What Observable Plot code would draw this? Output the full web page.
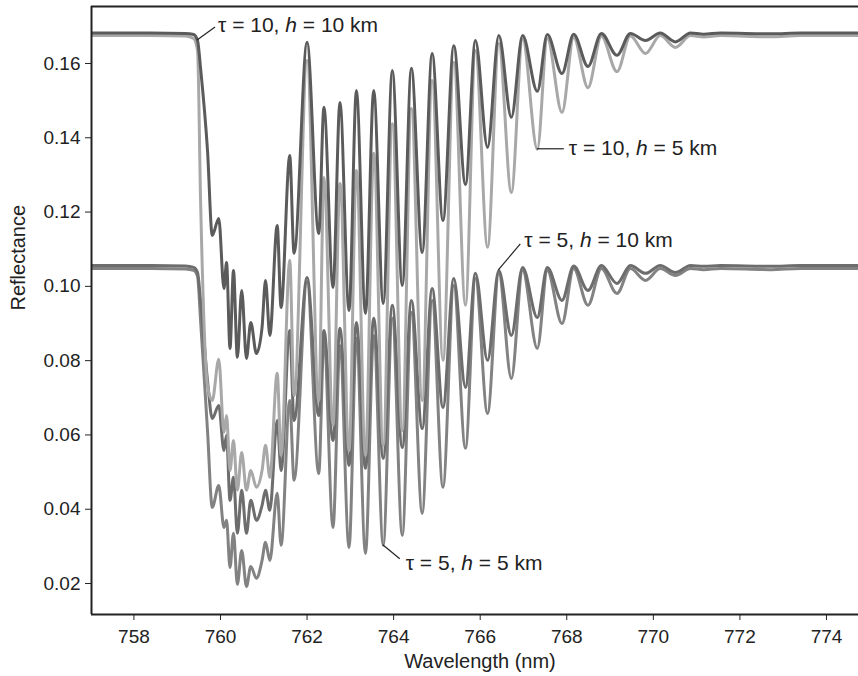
<!DOCTYPE html>
<html>
<head>
<meta charset="utf-8">
<script src="https://cdn.jsdelivr.net/npm/d3@7"></script>
<script src="https://cdn.jsdelivr.net/npm/@observablehq/plot@0.6"></script>
<style>
  html, body { margin: 0; padding: 0; background: #fff; }
  #chart { width: 858px; height: 676px; }
</style>
</head>
<body>
<div id="chart"></div>
<script>
// Wavelength grid (nm) shared by the four simulated spectra of the O2 A-band
const wavelength = [757.02, 758.39, 759.19, 759.38, 759.47, 759.54, 759.70, 759.81, 759.96, 760.08,
  760.14, 760.22, 760.30, 760.39, 760.49, 760.60, 760.70, 760.83, 760.96, 761.04,
  761.14, 761.31, 761.40, 761.60, 761.70, 762.00, 762.27, 762.39, 762.60, 762.76,
  762.97, 763.14, 763.35, 763.54, 763.76, 763.97, 764.20, 764.41, 764.66, 764.89,
  765.14, 765.39, 765.66, 765.89, 766.17, 766.43, 766.72, 766.98, 767.32, 767.55,
  767.89, 768.16, 768.49, 768.80, 769.16, 769.47, 769.82, 770.16, 770.51, 770.86,
  771.16, 771.55, 772.71, 773.40, 774.74];

// Reflectance for cloud optical thickness tau and cloud-top height h
const reflTau10H10 = [0.1682, 0.1682, 0.1681, 0.1678, 0.1662, 0.1587, 0.1366, 0.1137, 0.1183, 0.0994,
  0.1064, 0.0833, 0.1043, 0.0809, 0.0989, 0.0806, 0.0903, 0.0819, 0.0889, 0.1016,
  0.0868, 0.1164, 0.0943, 0.1352, 0.1089, 0.1657, 0.1142, 0.1482, 0.0997, 0.1495,
  0.0935, 0.1527, 0.0927, 0.1527, 0.0954, 0.1581, 0.1002, 0.1587, 0.1091, 0.1627,
  0.1177, 0.1648, 0.1274, 0.1662, 0.1374, 0.1675, 0.1455, 0.1675, 0.1525, 0.1678,
  0.1573, 0.1679, 0.1592, 0.1681, 0.1622, 0.1681, 0.1662, 0.1682, 0.1658, 0.1682,
  0.1679, 0.1682, 0.1680, 0.1682, 0.1682];

const reflTau10H5 = [0.1675, 0.1675, 0.1674, 0.1667, 0.1635, 0.1231, 0.0733, 0.0693, 0.0804, 0.0607,
  0.0652, 0.0504, 0.0585, 0.0451, 0.0553, 0.0451, 0.0504, 0.0459, 0.0504, 0.0572,
  0.0486, 0.0766, 0.0545, 0.1070, 0.0706, 0.1608, 0.0693, 0.1293, 0.0626, 0.1277,
  0.0558, 0.1312, 0.0545, 0.1358, 0.0572, 0.1438, 0.0612, 0.1479, 0.0693, 0.1554,
  0.0801, 0.1603, 0.0949, 0.1635, 0.1105, 0.1654, 0.1253, 0.1666, 0.1369, 0.1667,
  0.1468, 0.1670, 0.1535, 0.1673, 0.1578, 0.1674, 0.1627, 0.1675, 0.1643, 0.1675,
  0.1671, 0.1675, 0.1672, 0.1675, 0.1675];

const reflTau5H10 = [0.1056, 0.1056, 0.1055, 0.1051, 0.1037, 0.0962, 0.0747, 0.0644, 0.0679, 0.0558,
  0.0599, 0.0424, 0.0486, 0.0335, 0.0451, 0.0335, 0.0424, 0.0370, 0.0410, 0.0451,
  0.0397, 0.0639, 0.0504, 0.0881, 0.0639, 0.1024, 0.0652, 0.0881, 0.0585, 0.0887,
  0.0518, 0.0903, 0.0510, 0.0914, 0.0537, 0.0949, 0.0566, 0.0962, 0.0617, 0.0994,
  0.0674, 0.1021, 0.0728, 0.1035, 0.0801, 0.1043, 0.0868, 0.1051, 0.0916, 0.1051,
  0.0962, 0.1055, 0.0989, 0.1056, 0.1008, 0.1056, 0.1035, 0.1056, 0.1037, 0.1056,
  0.1054, 0.1056, 0.1054, 0.1056, 0.1056];

const reflTau5H5 = [0.1048, 0.1048, 0.1047, 0.1043, 0.1027, 0.0908, 0.0612, 0.0405, 0.0464, 0.0351,
  0.0370, 0.0243, 0.0335, 0.0198, 0.0289, 0.0192, 0.0246, 0.0214, 0.0262, 0.0311,
  0.0262, 0.0443, 0.0303, 0.0693, 0.0478, 0.1013, 0.0496, 0.0854, 0.0351, 0.0841,
  0.0297, 0.0860, 0.0281, 0.0868, 0.0303, 0.0914, 0.0329, 0.0930, 0.0389, 0.0962,
  0.0459, 0.1002, 0.0564, 0.1021, 0.0658, 0.1035, 0.0752, 0.1043, 0.0833, 0.1043,
  0.0900, 0.1048, 0.0949, 0.1048, 0.0981, 0.1048, 0.1016, 0.1048, 0.1029, 0.1048,
  0.1045, 0.1048, 0.1045, 0.1048, 0.1048];

const seriesNames = ["τ = 10, h = 10 km", "τ = 10, h = 5 km", "τ = 5, h = 10 km", "τ = 5, h = 5 km"];
const xTicks = [758, 760, 762, 764, 766, 768, 770, 772, 774];
const yTicks = [0.02, 0.04, 0.06, 0.08, 0.10, 0.12, 0.14, 0.16];
const xLabel = "Wavelength (nm)";
const yLabel = "Reflectance";

// ---- styling & layout ----
const FONT = "'Liberation Sans', Arial, Helvetica, sans-serif";
const W = 858, H = 676;
const M = {top: 6, right: 0, bottom: 62, left: 91};
const xDomain = [757.02, 774.74];
const yDomain = [0.01166, 0.17534];
const AXIS = "#222";

const series = [
  {name: seriesNames[0], values: reflTau10H10, color: "#5b5b5b"},
  {name: seriesNames[1], values: reflTau10H5,  color: "#a8a8a8"},
  {name: seriesNames[2], values: reflTau5H10,  color: "#6d6d6d"},
  {name: seriesNames[3], values: reflTau5H5,   color: "#828282"}
];

const rowsOf = s => wavelength.map((w, i) => ({wavelength: w, reflectance: s.values[i]}));

// draw back to front: the darkest spectrum ends up on top
const drawOrder = [3, 2, 1, 0];

const plot = Plot.plot({
  width: W,
  height: H,
  marginTop: M.top,
  marginRight: M.right,
  marginBottom: M.bottom,
  marginLeft: M.left,
  style: {fontFamily: FONT, fontSize: "19px", background: "#fff", color: AXIS},
  x: {domain: xDomain},
  y: {domain: yDomain},
  marks: [
    ...drawOrder.map(k => Plot.line(rowsOf(series[k]), {
      x: "wavelength", y: "reflectance",
      stroke: series[k].color, strokeWidth: 3,
      curve: "monotone-x", clip: true
    })),
    // frame: left, bottom and top edges
    Plot.ruleX([xDomain[0]], {stroke: AXIS, strokeWidth: 2}),
    Plot.ruleY([yDomain[0], yDomain[1]], {stroke: AXIS, strokeWidth: 2}),
    Plot.axisX({ticks: xTicks, tickFormat: d => String(d), tickSize: 6, tickPadding: 9, label: null, stroke: AXIS, fill: AXIS, fontSize: 19}),
    Plot.axisY({ticks: yTicks, tickFormat: d3.format(".2f"), tickSize: 6, tickPadding: 5, label: null, stroke: AXIS, fill: AXIS, fontSize: 19}),
    Plot.text([xLabel], {frameAnchor: "bottom", dx: 5, dy: 53, fill: AXIS, fontSize: 20}),
    Plot.text([yLabel], {frameAnchor: "left", dx: -73, rotate: -90, fill: AXIS, fontSize: 20})
  ]
});

document.getElementById("chart").appendChild(plot);

// ---- callouts: a leader line from a point of each spectrum to its label ----
const callouts = [
  {series: 0, index: 4,  lead: [18, -13], gap: [3, -2]},
  {series: 1, index: 48, lead: [27, 0],   gap: [5, -1]},
  {series: 2, index: 45, lead: [22, -26], gap: [4, -4]},
  {series: 3, index: 34, lead: [17, 14],  gap: [6, 4]}
];

const sx = plot.scale("x"), sy = plot.scale("y");
const g = d3.select(plot).append("g")
  .attr("font-family", FONT)
  .attr("font-size", 21)
  .attr("fill", AXIS)
  .attr("text-anchor", "start")
  .style("white-space", "pre");

for (const c of callouts) {
  const s = series[c.series];
  const px = sx.apply(wavelength[c.index]);
  const py = sy.apply(s.values[c.index]);
  const ex = px + c.lead[0], ey = py + c.lead[1];
  g.append("line")
    .attr("x1", px).attr("y1", py).attr("x2", ex).attr("y2", ey)
    .attr("stroke", AXIS).attr("stroke-width", 1.2);
  const [pre, post] = s.name.split("h");
  const t = g.append("text")
    .attr("x", ex + c.gap[0]).attr("y", ey + c.gap[1]).attr("dy", "0.35em");
  t.append("tspan").text(pre);
  t.append("tspan").attr("font-style", "italic").text("h");
  t.append("tspan").text(post);
}
</script>
</body>
</html>
